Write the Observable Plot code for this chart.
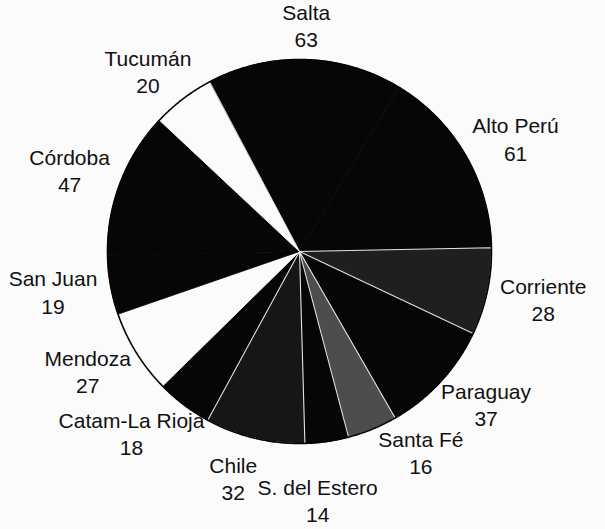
<!DOCTYPE html>
<html>
<head>
<meta charset="utf-8">
<script src="https://cdn.jsdelivr.net/npm/d3@7"></script>
<script src="https://cdn.jsdelivr.net/npm/@observablehq/plot@0.6"></script>
<style>
  html, body { margin: 0; padding: 0; background: #fbfbfb; }
  #chart svg { display: block; background: #fbfbfb; }
</style>
</head>
<body>
<div id="chart"></div>
<script>
// ---- data ----
const names = ["Salta", "Alto Perú", "Corriente", "Paraguay", "Santa Fé", "S. del Estero",
               "Chile", "Catam-La Rioja", "Mendoza", "San Juan", "Córdoba", "Tucumán"];
const values = [63, 61, 28, 37, 16, 14, 32, 18, 27, 19, 47, 20];

// ---- styles ----
const palette = ["#060606", "#060606", "#1f1f1f", "#060606", "#4d4d4d", "#060606",
                 "#161616", "#060606", "#fbfbfb", "#060606", "#060606", "#fbfbfb"];
const W = 605, H = 529, cx = 299, cy = 251, R = 192;
const fontSize = 21, lineHeight = 1.29, fontFamily = "Liberation Sans, Arial, Helvetica, sans-serif";
const startDeg = -28, gap = 14;

const data = names.map((name, i) => ({name, value: values[i]}));
const rad = Math.PI / 180;
const pie = d3.pie().sort(null).value(d => d.value)
  .startAngle(startDeg * rad).endAngle(startDeg * rad + 2 * Math.PI);
const arcs = pie(data);

// slice polygons (unit radius, angle clockwise from top)
const poly = arcs.flatMap(a => {
  const pts = [{name: a.data.name, x: 0, y: 0}];
  const n = Math.max(2, Math.ceil((a.endAngle - a.startAngle) / (0.5 * rad)));
  for (let i = 0; i <= n; i++) {
    const t = a.startAngle + (a.endAngle - a.startAngle) * i / n;
    pts.push({name: a.data.name, x: Math.sin(t), y: Math.cos(t)});
  }
  return pts;
});
const circle = d3.range(0, 721).map(i => ({x: Math.sin(i * 0.5 * rad), y: Math.cos(i * 0.5 * rad)}));

// labels: placed just outside the rim along the mid-angle, then spread apart where they collide
const ctx = document.createElement("canvas").getContext("2d");
ctx.font = `${fontSize}px ${fontFamily}`;
const halfH = (fontSize * lineHeight + fontSize * 0.72) / 2;   // ink half-height
const halfC = fontSize * (lineHeight + 1) / 2;                  // box half-height used for collisions
const L = arcs.map(a => ({
  name: a.data.name, value: a.data.value,
  t: (a.startAngle + a.endAngle) / 2, e: 0,
  w: Math.max(ctx.measureText(a.data.name).width, ctx.measureText(String(a.data.value)).width) / 2
}));
function boxOf(l) {
  const px = (R + gap + l.e + l.w) * Math.sin(l.t);
  const py = (R + gap + l.e + halfH) * Math.cos(l.t);
  return {px, py, x0: px - l.w, x1: px + l.w, y0: py - halfC, y1: py + halfC};
}
for (let it = 0; it < 600; it++) {
  let any = false;
  for (let i = 0; i < L.length; i++) {
    const j = (i + 1) % L.length;
    const a = boxOf(L[i]), b = boxOf(L[j]);
    if (a.x0 < b.x1 && a.x1 > b.x0 && a.y0 < b.y1 && a.y1 > b.y0) {
      any = true;
      L[i].t -= 0.1 * rad;
      L[j].t += 0.1 * rad;
      L[j].e += 0.3;
    }
  }
  // keep the ink inside the picture
  for (const l of L) {
    while (l.e > 0 && cy - boxOf(l).py + halfH > H - 1) l.e -= 0.5;
  }
  if (!any) break;
}
const labels = L.map(l => {
  const b = boxOf(l);
  return {text: `${l.name}\n${l.value}`, x: b.px / R, y: b.py / R};
});

const speckled = new Set(["Corriente", "Santa Fé", "Chile"]);

const chart = Plot.plot({
  width: W, height: H,
  margin: 0,
  style: {background: "#fbfbfb", fontFamily},
  x: {domain: [-cx / R, (W - cx) / R], axis: null},
  y: {domain: [-(H - cy) / R, cy / R], axis: null},
  color: {domain: names, range: palette},
  marks: [
    Plot.line(poly, {x: "x", y: "y", z: "name", fill: "name", stroke: "name", strokeWidth: 0.8, curve: "linear-closed"}),
    Plot.line(poly.filter(d => speckled.has(d.name)), {
      x: "x", y: "y", z: "name", stroke: "#e2e2e2", strokeWidth: 1.1, fill: "none", curve: "linear-closed"
    }),
    Plot.line(circle, {x: "x", y: "y", stroke: "#050505", strokeWidth: 1.6, fill: "none"}),
    Plot.text(labels, {
      x: "x", y: "y", text: "text", fontSize, lineHeight,
      textAnchor: "middle", fill: "#111"
    })
  ]
});
document.getElementById("chart").appendChild(chart);
</script>
</body>
</html>
